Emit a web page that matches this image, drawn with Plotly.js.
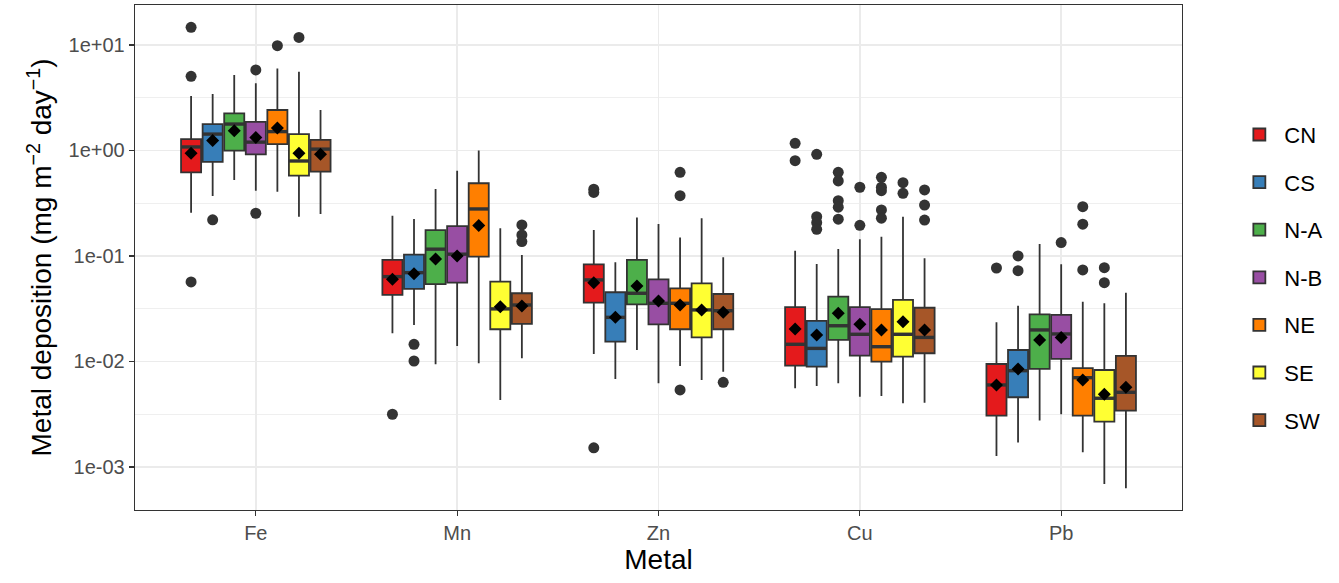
<!DOCTYPE html>
<html>
<head>
<meta charset="utf-8">
<script src="https://cdn.plot.ly/plotly-3.0.1.min.js"></script>
<style>html,body{margin:0;padding:0;background:#fff;}#chart{width:1339px;height:583px;}</style>
</head>
<body>
<div id="chart"></div>
<script>
// Categories and groups
const metals = ['Fe', 'Mn', 'Zn', 'Cu', 'Pb'];
const sites = ['CN', 'CS', 'N-A', 'N-B', 'NE', 'SE', 'SW'];
const colors = ['#E41A1C', '#377EB8', '#4DAF4A', '#984EA3', '#FF7F00', '#FFFF33', '#A65628'];

// Box statistics: [site][metal] in order Fe, Mn, Zn, Cu, Pb
const q3 = [
  [1.28, 0.0917, 0.0834, 0.0327, 0.00946],
  [1.78, 0.1028, 0.0453, 0.0242, 0.01285],
  [2.25, 0.176, 0.0917, 0.0411, 0.028],
  [1.87, 0.192, 0.0601, 0.0327, 0.0276],
  [2.42, 0.489, 0.0494, 0.0313, 0.00863],
  [1.43, 0.057, 0.0551, 0.0383, 0.0083],
  [1.26, 0.0443, 0.0436, 0.0323, 0.01128]
];
const medians = [
  [1.08, 0.0637, 0.0593, 0.01455, 0.00599],
  [1.43, 0.0695, 0.0262, 0.0133, 0.00818],
  [1.78, 0.116, 0.0443, 0.0218, 0.0199],
  [1.20, 0.104, 0.0356, 0.0181, 0.01823],
  [1.51, 0.279, 0.0356, 0.0138, 0.00702],
  [0.795, 0.0315, 0.0308, 0.0181, 0.00448],
  [1.03, 0.0343, 0.0303, 0.0169, 0.0051]
];
const q1 = [
  [0.62, 0.0427, 0.0361, 0.00912, 0.00306],
  [0.78, 0.0487, 0.0154, 0.00893, 0.00458],
  [0.995, 0.054, 0.0348, 0.016, 0.0085],
  [0.92, 0.0558, 0.0225, 0.01135, 0.01057],
  [1.15, 0.0985, 0.0202, 0.00995, 0.00306],
  [0.577, 0.0202, 0.0169, 0.0111, 0.00269],
  [0.63, 0.0227, 0.0202, 0.01197, 0.00342]
];
const upperWhisker = [
  [3.29, 0.241, 0.176, 0.112, 0.0235],
  [3.43, 0.224, 0.0871, 0.0839, 0.0338],
  [5.2, 0.431, 0.231, 0.1165, 0.130],
  [4.34, 0.644, 0.201, 0.144, 0.0834],
  [6.0, 1.0, 0.150, 0.152, 0.0369],
  [5.58, 0.183, 0.228, 0.236, 0.0356],
  [2.42, 0.102, 0.0972, 0.095, 0.0449]
];
const lowerWhisker = [
  [0.257, 0.0185, 0.0118, 0.00557, 0.00127],
  [0.37, 0.0222, 0.00683, 0.00586, 0.00171],
  [0.525, 0.0094, 0.01285, 0.00621, 0.00275],
  [0.416, 0.0140, 0.00621, 0.00464, 0.00316],
  [0.407, 0.0096, 0.00906, 0.00471, 0.00138],
  [0.236, 0.00432, 0.00668, 0.00402, 0.00069],
  [0.25, 0.0107, 0.0080, 0.00407, 0.000628]
];
const means = [
  [0.94, 0.0601, 0.0558, 0.0203, 0.00599],
  [1.24, 0.068, 0.0262, 0.0178, 0.0085],
  [1.54, 0.0937, 0.052, 0.0286, 0.016],
  [1.33, 0.1, 0.0374, 0.0225, 0.0169],
  [1.63, 0.194, 0.0343, 0.0199, 0.00668],
  [0.94, 0.033, 0.0308, 0.0238, 0.00489],
  [0.92, 0.0336, 0.0292, 0.0199, 0.00569]
];
// Outliers per site
const outlierMetals = [
  ['Fe', 'Fe', 'Fe', 'Mn', 'Zn', 'Zn', 'Zn', 'Cu', 'Cu', 'Pb'],
  ['Fe', 'Mn', 'Mn', 'Cu', 'Cu', 'Cu', 'Cu', 'Pb', 'Pb'],
  ['Cu', 'Cu', 'Cu', 'Cu', 'Cu'],
  ['Fe', 'Fe', 'Cu', 'Cu', 'Pb'],
  ['Fe', 'Zn', 'Zn', 'Zn', 'Cu', 'Cu', 'Cu', 'Cu', 'Cu', 'Pb', 'Pb', 'Pb'],
  ['Fe', 'Cu', 'Cu', 'Pb', 'Pb'],
  ['Mn', 'Mn', 'Mn', 'Zn', 'Cu', 'Cu', 'Cu']
];
const outlierValues = [
  [14.7, 5.05, 0.0567, 0.00316, 0.43, 0.40, 0.00152, 1.17, 0.80, 0.0769],
  [0.22, 0.01455, 0.0101, 0.92, 0.236, 0.207, 0.179, 0.1, 0.0726],
  [0.621, 0.514, 0.334, 0.29, 0.223],
  [5.8, 0.254, 0.448, 0.195, 0.134],
  [9.85, 0.621, 0.373, 0.00537, 0.557, 0.448, 0.416, 0.273, 0.228, 0.293, 0.2, 0.0737],
  [11.8, 0.495, 0.393, 0.0774, 0.0558],
  [0.197, 0.158, 0.137, 0.00635, 0.423, 0.304, 0.219]
];
const yTickVals = [0.001, 0.01, 0.1, 1, 10];
const yTickText = ['1e-03', '1e-02', '1e-01', '1e+00', '1e+01'];

const dodge = 0.75 / sites.length;
const boxW = dodge * 0.93;
function pos(metalIdx, siteIdx) { return metalIdx + (siteIdx - (sites.length - 1) / 2) * dodge; }

const traces = [];
sites.forEach((s, g) => {
  const xs = metals.map((m, i) => pos(i, g));
  traces.push({
    type: 'box', name: s, legendgroup: s, showlegend: true,
    x: xs, q1: q1[g], median: medians[g], q3: q3[g],
    lowerfence: lowerWhisker[g], upperfence: upperWhisker[g],
    width: boxW, whiskerwidth: 0, boxpoints: false,
    fillcolor: colors[g], line: {color: '#333333', width: 1.8},
    hoverinfo: 'skip'
  });
});
sites.forEach((s, g) => {
  const xs = metals.map((m, i) => pos(i, g));
  // thicker median bar (ggplot fatten)
  traces.push({
    type: 'scatter', mode: 'markers', name: s + ' median', legendgroup: s, showlegend: false,
    x: xs, y: medians[g],
    marker: {symbol: 'line-ew', size: 14, color: '#333333', line: {color: '#333333', width: 3.4}},
    hoverinfo: 'skip'
  });
  traces.push({
    type: 'scatter', mode: 'markers', name: s + ' outliers', legendgroup: s, showlegend: false,
    x: outlierMetals[g].map(m => pos(metals.indexOf(m), g)), y: outlierValues[g],
    marker: {symbol: 'circle', size: 11, color: '#333333'}, hoverinfo: 'skip'
  });
  traces.push({
    type: 'scatter', mode: 'markers', name: s + ' mean', legendgroup: s, showlegend: false,
    x: xs, y: means[g],
    marker: {symbol: 'diamond', size: 10, color: '#000000'}, hoverinfo: 'skip'
  });
});

const minorVals = [];
for (let k = -4; k <= 1; k++) minorVals.push(Math.pow(10, k + 0.5));

const layout = {
  width: 1339, height: 583,
  margin: {l: 135, r: 157, t: 5, b: 73},
  paper_bgcolor: '#ffffff', plot_bgcolor: '#ffffff',
  font: {family: 'Arial, "Liberation Sans", sans-serif', color: '#4D4D4D', size: 20},
  boxmode: 'overlay',
  showlegend: true,
  legend: {
    x: 1.05, xanchor: 'left', y: 0.46, yanchor: 'middle',
    font: {size: 22, color: '#000000'}, tracegroupgap: 16, traceorder: 'grouped',
    itemwidth: 40, bgcolor: 'rgba(0,0,0,0)'
  },
  xaxis: {
    range: [-0.6, 4.6], tickvals: [0, 1, 2, 3, 4], ticktext: metals,
    showgrid: true, gridcolor: '#EBEBEB', gridwidth: 1.5, zeroline: false,
    showline: true, mirror: true, linecolor: '#333333', linewidth: 1.3,
    ticks: 'outside', ticklen: 5, tickwidth: 1.3, tickcolor: '#333333',
    tickfont: {size: 20, color: '#4D4D4D'},
    title: {text: 'Metal', font: {size: 28, color: '#000000'}, standoff: 2}
  },
  yaxis: {
    type: 'log', range: [-3.408, 1.379],
    tickvals: yTickVals, ticktext: yTickText,
    showgrid: true, gridcolor: '#EBEBEB', gridwidth: 1.5, zeroline: false,
    showline: true, mirror: true, linecolor: '#333333', linewidth: 1.3,
    ticks: 'outside', ticklen: 5, tickwidth: 1.3, tickcolor: '#333333',
    tickfont: {size: 20, color: '#4D4D4D'},
    minor: {tickvals: minorVals, showgrid: true, gridcolor: '#EBEBEB', gridwidth: 0.8, ticks: ''},
    title: {text: 'Metal deposition (mg m<sup>−2</sup> day<sup>−1</sup>)', font: {size: 28, color: '#000000'}, standoff: 8}
  }
};

Plotly.newPlot('chart', traces, layout, {displayModeBar: false, staticPlot: true});
</script>
</body>
</html>
